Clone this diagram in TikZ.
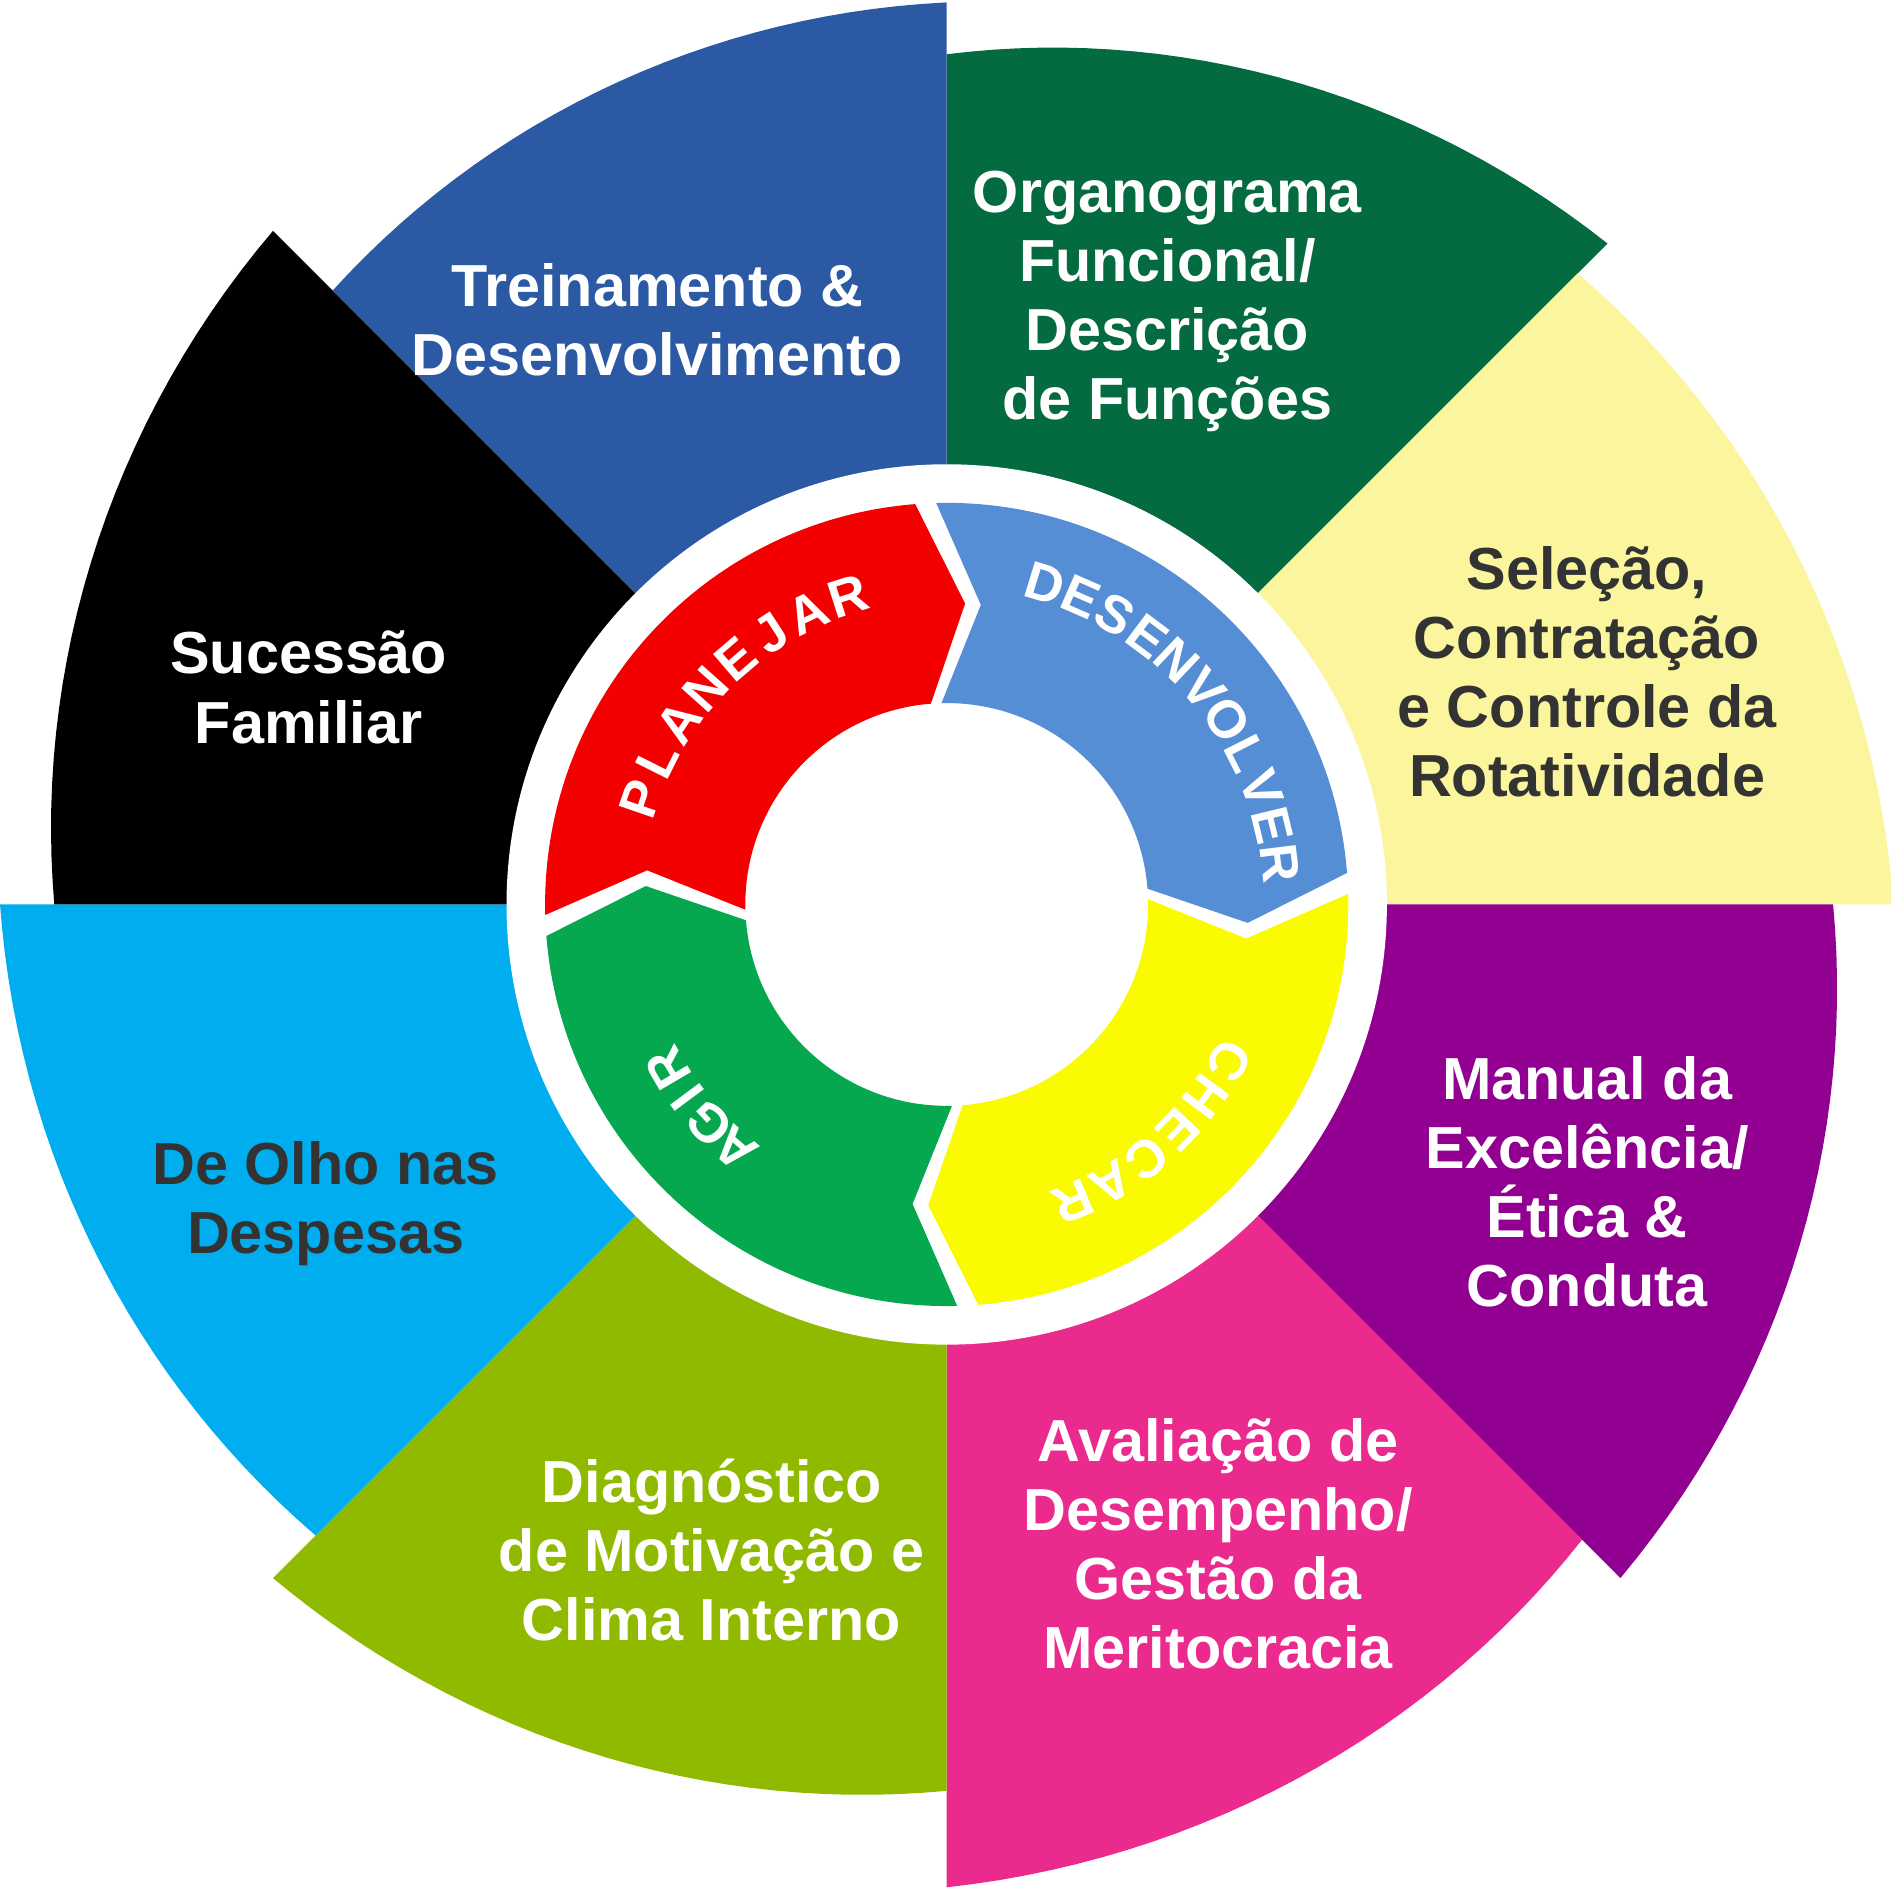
\documentclass[tikz,border=0pt]{standalone}
\usepackage{fontspec}
\setmainfont{Liberation Sans}
\definecolor{cBlue}{HTML}{2B59A3}
\definecolor{cGreen}{HTML}{046A40}
\definecolor{cYel}{HTML}{FBF59D}
\definecolor{cPur}{HTML}{910091}
\definecolor{cPink}{HTML}{EB2A8E}
\definecolor{cOli}{HTML}{8FBA00}
\definecolor{cCyan}{HTML}{00AEEF}
\definecolor{pRed}{HTML}{F40000}
\definecolor{pBlue}{HTML}{558ED5}
\definecolor{pYel}{HTML}{FAFA00}
\definecolor{pGreen}{HTML}{05A84E}
\definecolor{dark}{HTML}{333333}
\tikzset{lbl/.style={font=\fontsize{14}{16.3}\selectfont\bfseries,align=center},
 let/.style={font=\fontsize{12.5}{12.5}\selectfont\bfseries,text=white,inner sep=0pt}}
\begin{document}
\begin{tikzpicture}[x=0.1mm,y=0.1mm]
\useasboundingbox (0,0) rectangle (1568,1567);
\begin{scope}[shift={(785,817)}]
\foreach \a/\c/\r/\q in {90/cGreen/705/775,45/cYel/740/785,0/cPur/735/790,-45/cPink/745/815,-90/cOli/735/790,-135/cCyan/740/785,-180/black/740/790,-225/cBlue/720/748}{
  \fill[\c] (0,0) -- plot[domain=\a:\a-45,samples=30] (\x:{\r+(\q-\r)*(\a-\x)/45}) -- cycle;
}
\fill[white] (0,0) circle[radius=365];
\foreach \s/\e/\c in {183/93/pRed,93/3/pBlue,3/-87/pYel,-87/-177/pGreen}{
  \fill[\c] (\s-1.5:333) arc[start angle=\s-1.5,end angle=\e+1.5,radius=333]
   -- (\e-6.5:250) -- (\e+1.5:167) arc[start angle=\e+1.5,end angle=\s-1.5,radius=167]
   -- (\s-9.5:250) -- cycle;
}
\foreach \t [count=\i] in {P,L,A,N,E,J,A,R}
  \node[let,rotate={161-(\i-1)*7.6-90}] (p\i) at ({161-(\i-1)*7.6}:268) {\t};
\foreach \t [count=\i] in {D,E,S,E,N,V,O,L,V,E,R}
  \node[let,rotate={73-(\i-1)*6.6-90}] (d\i) at ({73-(\i-1)*6.6}:278) {\t};
\foreach \t [count=\i] in {C,H,E,C,A,R}
  \node[let,rotate={-29-(\i-1)*7.6-90}] (c\i) at ({-29-(\i-1)*7.6}:268) {\t};
\foreach \t [count=\i] in {A,G,I,R}
  \node[let,rotate={-131-(\i-1)*6.2-90}] (a\i) at ({-131-(\i-1)*6.2}:268) {\t};
\end{scope}
\node[lbl,text=white] (t1) at (545,1302) {Treinamento \&\\Desenvolvimento};
\node[lbl,text=white] (t2) at (968,1317) {Organograma\\Funcional/\\Descrição\\de Funções};
\node[lbl,text=dark] (t3) at (1316,1010) {Seleção,\\Contratação\\e Controle da\\Rotatividade};
\node[lbl,text=white] (t4) at (1316,587) {Manual da\\Excelência/\\Ética \&\\Conduta};
\node[lbl,text=white] (t5) at (1010,287) {Avaliação de\\Desempenho/\\Gestão da\\Meritocracia};
\node[lbl,text=white] (t6) at (590,282) {Diagnóstico\\de Motivação e\\Clima Interno};
\node[lbl,text=dark] (t7) at (270,569) {De Olho nas\\Despesas};
\node[lbl,text=white] (t8) at (256,997) {Sucessão\\Familiar};
\end{tikzpicture}
\end{document}
